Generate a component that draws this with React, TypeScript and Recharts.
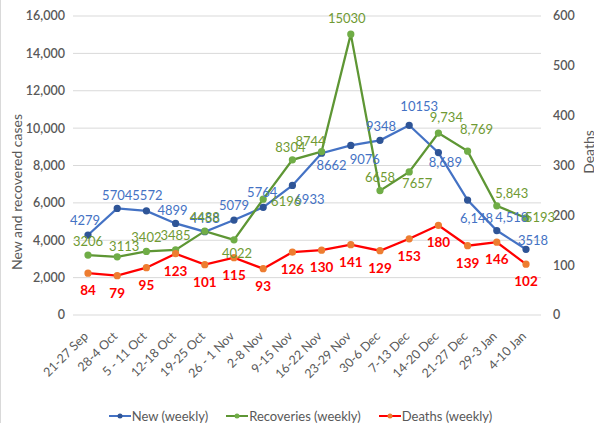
import { LineChart, Line, XAxis, YAxis, CartesianGrid, Legend, LabelList } from 'recharts'

const weeks = ['21-27 Sep', '28-4 Oct', '5 - 11 Oct', '12-18 Oct', '19-25 Oct', '26 - 1 Nov', '2-8 Nov', '9-15 Nov',
  '16-22 Nov', '23-29 Nov', '30-6 Dec', '7-13 Dec', '14-20 Dec', '21-27 Dec', '29-3 Jan', '4-10 Jan']
const newCases = [4279, 5704, 5572, 4899, 4458, 5079, 5764, 6933, 8662, 9076, 9348, 10153, 8689, 6148, 4518, 3518]
const recoveries = [3206, 3113, 3402, 3485, 4488, 4022, 6196, 8304, 8744, 15030, 6658, 7657, 9734, 8769, 5843, 5193]
const deaths = [84, 79, 95, 123, 101, 115, 93, 126, 130, 141, 129, 153, 180, 139, 146, 102]
const leftTicks = [0, 2000, 4000, 6000, 8000, 10000, 12000, 14000, 16000]
const rightTicks = [0, 100, 200, 300, 400, 500, 600]

// the source labels use thousands separators only on these weeks
const commaWeeks = [12, 13, 14]

// label offsets from each point (dx, dy)
const newLabelPos = [[-3, -15], [0, -13], [1, -16], [-3, -13], [0, -14], [0, -15], [-1, -15], [17, 14],
  [10, 12], [14, 14], [1, -14], [10, -19], [7, 9], [9, 18], [15, -14], [7, -9]]
const recLabelPos = [[0, -14], [7, -11], [0, -14], [0, -15], [0, -14], [3, 13], [23, 2], [-2, -13],
  [-11, -11], [-4, -16], [0, -14], [8, 11], [8, -16], [9, -22], [15, -13], [14, -1]]

const data = weeks.map((w, i) => ({ week: w, newCases: newCases[i], recoveries: recoveries[i], deaths: deaths[i] }))

const FONT = 'Lato, "Open Sans", sans-serif'
const GREY = '#595959'

function fmt(v: number, i: number) {
  return commaWeeks.includes(i) ? v.toLocaleString('en-US') : String(v)
}

function makeLabel(color: string, pos: number[][] | null, bold = false) {
  return (props: any) => {
    const { x, y, value, index } = props
    const [dx, dy] = pos ? pos[index] : [0, 17]
    return (
      <text x={x + dx} y={y + dy} fill={color} fontSize={bold ? 13.5 : 13} fontFamily={FONT} fontWeight={bold ? 700 : 400}
        textAnchor="middle" dominantBaseline="central">
        {fmt(value, index)}
      </text>
    )
  }
}

function WeekTick(props: any) {
  const { x, y, payload } = props
  return (
    <text transform={`translate(${x + 1},${y + 14}) rotate(-45)`} textAnchor="end" fontSize={12.5}
      fontFamily={FONT} fill={GREY}>
      {payload.value}
    </text>
  )
}

function AxisTitle({ cx, cy, text }: { cx: number, cy: number, text: string }) {
  return (
    <text transform={`translate(${cx},${cy}) rotate(-90)`} textAnchor="middle" dominantBaseline="central"
      fontSize={14} fontFamily={FONT} fill={GREY}>
      {text}
    </text>
  )
}

const legendItems = [
  { name: 'New (weekly)', color: '#4472C4', dot: '#2F5597' },
  { name: 'Recoveries (weekly)', color: '#5E9634', dot: '#70AD47' },
  { name: 'Deaths (weekly)', color: '#FF0000', dot: '#ED7D31' },
]

function ChartLegend() {
  return (
    <div style={{ display: 'flex', justifyContent: 'center', gap: 18, fontFamily: FONT, fontSize: 13, color: GREY, paddingLeft: 6, height: 20, marginTop: 3, alignItems: 'center' }}>
      {legendItems.map((it) => (
        <div key={it.name} style={{ display: 'flex', alignItems: 'center' }}>
          <svg width={22} height={10} style={{ marginRight: 1 }}>
            <line x1={0} y1={5} x2={22} y2={5} stroke={it.color} strokeWidth={2} />
            <circle cx={11} cy={5} r={2.5} fill={it.dot} />
          </svg>
          <span>{it.name}</span>
        </div>
      ))}
    </div>
  )
}

export default function App() {
  return (
    <div style={{ position: 'absolute', left: 0, top: 0, width: 594, height: 423, background: '#fff', borderLeft: '1px solid #D9D9D9', boxSizing: 'border-box' }}>
      <LineChart width={593} height={423} data={data} margin={{ top: 16, right: 0, left: 0, bottom: 0 }}>
        <CartesianGrid yAxisId="left" vertical={false} stroke="#D9D9D9" />
        <XAxis dataKey="week" tick={<WeekTick />} axisLine={false} tickLine={false} interval={0} height={88}
          padding={{ left: 15, right: 15 }} />
        <YAxis yAxisId="left" domain={[0, 16000]} ticks={leftTicks} width={72} axisLine={false} tickLine={false}
          tickFormatter={(v: number) => v.toLocaleString('en-US')}
          tick={{ fill: GREY, fontSize: 12.5, fontFamily: FONT, fontWeight: 600 }}
          label={<AxisTitle cx={15} cy={192} text="New and recovered cases" />} />
        <YAxis yAxisId="right" orientation="right" domain={[0, 600]} ticks={rightTicks} width={53} axisLine={false} tickLine={false}
          tick={{ fill: GREY, fontSize: 12.5, fontFamily: FONT, fontWeight: 600, dx: 4 }}
          label={<AxisTitle cx={587} cy={152} text="Deaths" />} />
        <Legend verticalAlign="bottom" height={20} content={<ChartLegend />} />
        <Line yAxisId="left" dataKey="newCases" name="New (weekly)" stroke="#4472C4" strokeWidth={2.25}
          dot={{ r: 2.5, fill: '#2F5597', stroke: '#2F5597' }} isAnimationActive={false}>
          <LabelList dataKey="newCases" content={makeLabel('#4472C4', newLabelPos)} />
        </Line>
        <Line yAxisId="left" dataKey="recoveries" name="Recoveries (weekly)" stroke="#5E9634" strokeWidth={2.25}
          dot={{ r: 2.5, fill: '#70AD47', stroke: '#70AD47' }} isAnimationActive={false}>
          <LabelList dataKey="recoveries" content={makeLabel('#6F9A33', recLabelPos)} />
        </Line>
        <Line yAxisId="right" dataKey="deaths" name="Deaths (weekly)" stroke="#FF0000" strokeWidth={2.25}
          dot={{ r: 2.5, fill: '#ED7D31', stroke: '#ED7D31' }} isAnimationActive={false}>
          <LabelList dataKey="deaths" content={makeLabel('#FF0000', null, true)} />
        </Line>
      </LineChart>
    </div>
  )
}
